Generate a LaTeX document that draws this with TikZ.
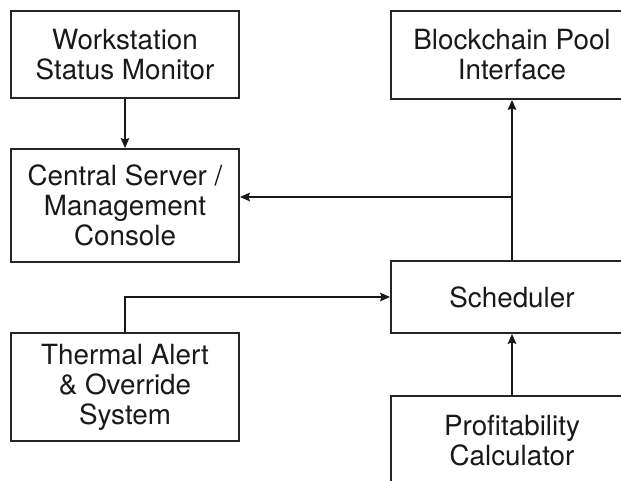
\documentclass[tikz,border=0pt]{standalone}
\usepackage{fontspec}
\setmainfont{TeX Gyre Heros}
\usetikzlibrary{arrows.meta}
\begin{document}
\begin{tikzpicture}[x=1pt,y=1pt,
  box/.style={draw=black!85, line width=1.8pt, align=center, inner sep=0pt,
    font=\fontsize{27.8}{30}\selectfont, text=black!90},
  conn/.style={line width=1.8pt, draw=black!90, -{Stealth[length=10pt,width=8.5pt,inset=1.5pt]}}]
\useasboundingbox (0,0) rectangle (621,-481);
\clip (0,0) rectangle (621,-481);
\fill[white] (0,0) rectangle (621,-481);
\node[box, minimum width=228pt, minimum height=87pt] (ws) at (125,-54.5) {Workstation\\Status Monitor};
\node[box, minimum width=242pt, minimum height=88pt] (bc) at (512,-55) {Blockchain Pool\\Interface};
\node[box, minimum width=228pt, minimum height=113pt] (cs) at (125,-205.5) {Central Server /\\Management\\Console};
\node[box, minimum width=242pt, minimum height=72pt] (sch) at (512,-297) {Scheduler};
\node[box, minimum width=228pt, minimum height=108pt] (th) at (125,-387) {Thermal Alert\\\& Override\\System};
\node[box, minimum width=242pt, minimum height=90pt] (pc) at (512,-441) {Profitability\\Calculator};
\coordinate (j) at (512,-197);
\draw[conn] (ws) -- (cs);
\draw[conn] (sch) -- (bc);
\draw[conn] (j) -- (j -| cs.east);
\draw[conn] (th.north) |- (sch.west);
\draw[conn] (pc) -- (sch);
\end{tikzpicture}
\end{document}
